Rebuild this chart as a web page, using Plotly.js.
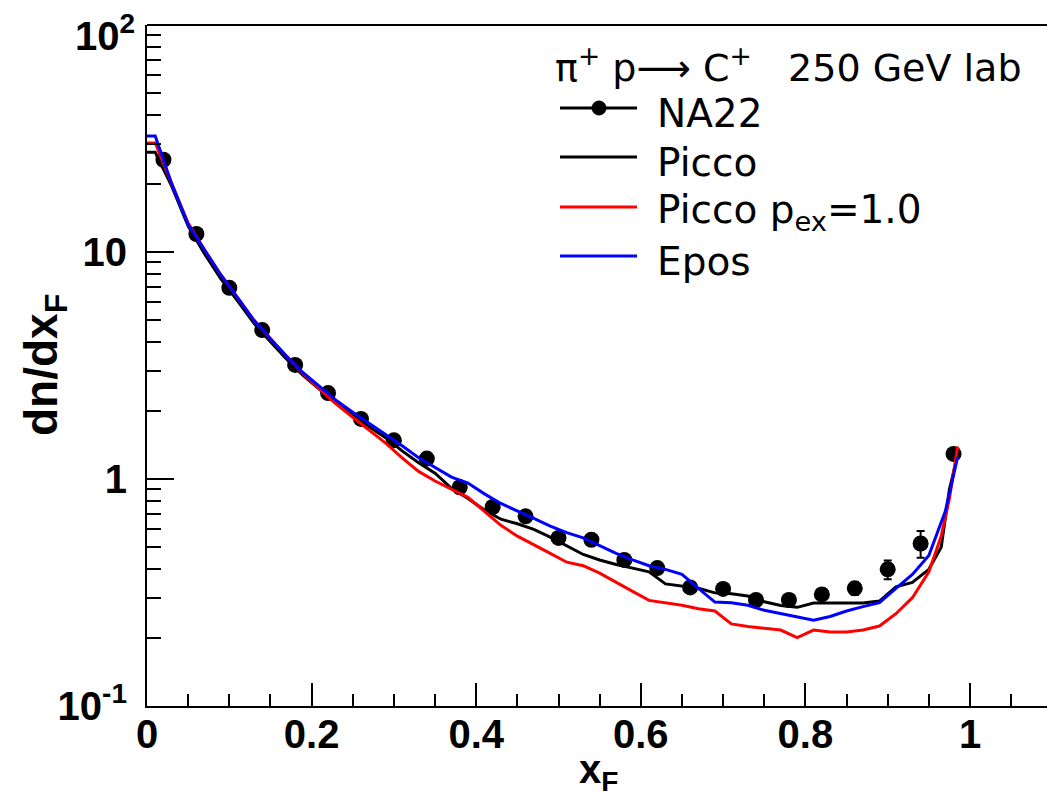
<!DOCTYPE html>
<html>
<head>
<meta charset="utf-8">
<script src="https://cdn.plot.ly/plotly-3.0.1.min.js"></script>
<style>html,body{margin:0;padding:0;background:#fff;}#chart{width:1047px;height:802px;}</style>
</head>
<body>
<div id="chart"></div>
<script>
// ---- Data ----
const na22X = [0.02,0.06,0.10,0.14,0.18,0.22,0.26,0.30,0.34,0.38,0.42,0.46,0.50,0.54,0.58,0.62,0.66,0.70,0.74,0.78,0.82,0.86,0.90,0.94,0.98];
const na22Y = [25.5,12.0,6.95,4.53,3.18,2.39,1.84,1.48,1.23,0.92,0.753,0.685,0.55,0.54,0.44,0.405,0.333,0.328,0.293,0.293,0.31,0.33,0.40,0.52,1.29];
const na22Err = [0.8,0.4,0.2,0.12,0.08,0.06,0.05,0.04,0.035,0.03,0.025,0.022,0.02,0.02,0.016,0.016,0.014,0.014,0.013,0.014,0.016,0.022,0.038,0.07,0.06];

const piccoX = [0.0,0.01,0.03,0.05,0.07,0.09,0.11,0.13,0.15,0.17,0.19,0.21,0.23,0.25,0.27,0.29,0.31,0.33,0.35,0.37,0.39,0.41,0.43,0.45,0.47,0.49,0.51,0.53,0.55,0.57,0.59,0.61,0.63,0.65,0.67,0.69,0.71,0.73,0.75,0.77,0.79,0.81,0.83,0.85,0.87,0.89,0.91,0.93,0.95,0.965,0.975,0.985];
const piccoY = [27.5,27.5,19.5,13.0,9.8,7.6,6.1,4.85,4.02,3.36,2.85,2.47,2.15,1.92,1.70,1.52,1.33,1.18,1.06,0.91,0.82,0.73,0.665,0.635,0.60,0.555,0.51,0.465,0.44,0.42,0.405,0.39,0.345,0.337,0.330,0.315,0.312,0.305,0.288,0.277,0.272,0.284,0.284,0.284,0.284,0.29,0.335,0.35,0.40,0.50,0.90,1.27];

const piccoPexX = [0.0,0.01,0.03,0.05,0.07,0.09,0.11,0.13,0.15,0.17,0.19,0.21,0.23,0.25,0.27,0.29,0.31,0.33,0.35,0.37,0.39,0.41,0.43,0.45,0.47,0.49,0.51,0.53,0.55,0.57,0.59,0.61,0.63,0.65,0.67,0.69,0.71,0.73,0.75,0.77,0.79,0.81,0.83,0.85,0.87,0.89,0.91,0.93,0.95,0.965,0.975,0.985];
const piccoPexY = [30.2,30.2,20.0,13.4,10.2,7.9,6.3,5.0,4.15,3.45,2.90,2.48,2.14,1.87,1.64,1.44,1.24,1.08,0.98,0.90,0.83,0.72,0.625,0.56,0.515,0.47,0.43,0.415,0.385,0.35,0.32,0.292,0.284,0.278,0.268,0.262,0.23,0.224,0.22,0.216,0.20,0.216,0.212,0.212,0.216,0.225,0.255,0.30,0.39,0.56,0.82,1.39];

const eposX = [0.0,0.01,0.03,0.05,0.07,0.09,0.11,0.13,0.15,0.17,0.19,0.21,0.23,0.25,0.27,0.29,0.31,0.33,0.35,0.37,0.39,0.41,0.43,0.45,0.47,0.49,0.51,0.53,0.55,0.57,0.59,0.61,0.63,0.65,0.67,0.69,0.71,0.73,0.75,0.77,0.79,0.81,0.83,0.85,0.87,0.89,0.91,0.93,0.95,0.97,0.985];
const eposY = [32.4,32.4,20.0,13.2,10.2,7.9,6.3,5.0,4.15,3.45,2.93,2.55,2.22,1.97,1.76,1.58,1.40,1.24,1.12,1.02,0.96,0.86,0.78,0.72,0.67,0.62,0.58,0.55,0.51,0.47,0.44,0.415,0.40,0.38,0.33,0.287,0.285,0.278,0.264,0.255,0.246,0.239,0.248,0.262,0.274,0.285,0.33,0.38,0.46,0.72,1.25];

const yTickVals = [0.1, 1, 10];
const yTickText = ['10<sup>-1</sup>', '1', '10'];
const yTopLabel = '10<sup>2</sup>';
const xTickVals = [0, 0.2, 0.4, 0.6, 0.8, 1];
const xTickText = ['0', '0.2', '0.4', '0.6', '0.8', '1'];

const legendTitle = 'π<sup>+</sup>\u00a0p<span style="font-family:DejaVu Sans">⟶</span>\u00a0C<sup>+</sup>\u00a0\u00a0\u00a0250 GeV lab';
const legendNames = ['NA22', 'Picco', 'Picco p<sub>ex</sub>=1.0', 'Epos'];
const legendColors = ['#000000', '#000000', '#ff0000', '#0000ff'];

// ---- Layout geometry ----
const W = 1047, H = 802;
const mL = 147, mR = 0, mT = 25, mB = 96;
const plotW = W - mL - mR, plotH = H - mT - mB;
const px2paperX = p => (p - mL) / plotW;
const px2paperY = p => (H - mB - p) / plotH;

const FONT = 'Liberation Sans, Arial, Helvetica, sans-serif';
const LFONT = 'DejaVu Sans, Liberation Sans, sans-serif';

// minor y ticks (2..9 within each decade)
const yMinor = [];
for (let e = -1; e < 2; e++) for (let m = 2; m <= 9; m++) yMinor.push(m * Math.pow(10, e));

const traces = [
  {x: na22X, y: na22Y, type: 'scatter', mode: 'markers', name: 'NA22', showlegend: false,
   marker: {color: '#000', size: 16, symbol: 'circle'},
   error_y: {type: 'data', array: na22Err, visible: true, color: '#000', thickness: 2, width: 4}},
  {x: piccoX, y: piccoY, type: 'scatter', mode: 'lines', name: 'Picco', showlegend: false,
   line: {color: '#000', width: 3}},
  {x: piccoPexX, y: piccoPexY, type: 'scatter', mode: 'lines', name: 'Picco pex=1.0', showlegend: false,
   line: {color: '#ff0000', width: 3}},
  {x: eposX, y: eposY, type: 'scatter', mode: 'lines', name: 'Epos', showlegend: false,
   line: {color: '#0000ff', width: 3}},
  // invisible trace to carry minor y ticks on overlay axis
  {x: [0], y: [1], yaxis: 'y2', type: 'scatter', mode: 'markers', marker: {opacity: 0}, showlegend: false, hoverinfo: 'skip'}
];

// legend built from annotations/shapes
const rowPx = [108, 157, 207, 256];
const annotations = [
  {xref: 'paper', yref: 'paper', x: px2paperX(553), y: px2paperY(65), xanchor: 'left', yanchor: 'middle',
   text: legendTitle, showarrow: false, font: {family: LFONT, size: 38, color: '#000'}},
  {xref: 'paper', yref: 'paper', x: px2paperX(44), y: px2paperY(365), xanchor: 'center', yanchor: 'middle',
   text: '<b>dn/dx<sub>F</sub></b>', textangle: -90, showarrow: false, font: {family: FONT, size: 46, color: '#000'}},
  {xref: 'paper', yref: 'paper', x: px2paperX(598), y: px2paperY(772), xanchor: 'center', yanchor: 'middle',
   text: '<b>x<sub>F</sub></b>', showarrow: false, font: {family: FONT, size: 40, color: '#000'}},
  {xref: 'paper', yref: 'y', x: px2paperX(137), y: 2, xanchor: 'right', yanchor: 'middle', yshift: -8,
   text: '<b>' + yTopLabel + '</b>', showarrow: false, font: {family: FONT, size: 40, color: '#000'}}
];
const shapes = [
  {type: 'line', xref: 'paper', yref: 'paper', x0: 0, x1: 1, y0: 1, y1: 1, line: {color: '#000', width: 2}}
];
legendNames.forEach((n, i) => {
  annotations.push({xref: 'paper', yref: 'paper', x: px2paperX(655), y: px2paperY(rowPx[i] + 5), xanchor: 'left', yanchor: 'middle',
    text: n, showarrow: false, font: {family: LFONT, size: 39, color: '#000'}});
  shapes.push({type: 'line', xref: 'paper', yref: 'paper', x0: px2paperX(560), x1: px2paperX(637),
    y0: px2paperY(rowPx[i]), y1: px2paperY(rowPx[i]), line: {color: legendColors[i], width: 3}});
});
shapes.push({type: 'circle', xref: 'paper', yref: 'paper', xsizemode: 'pixel', ysizemode: 'pixel',
  xanchor: px2paperX(599), yanchor: px2paperY(rowPx[0]), x0: -7, x1: 7, y0: -7, y1: 7,
  fillcolor: '#000', line: {color: '#000', width: 1}});

const layout = {
  width: W, height: H,
  margin: {l: mL, r: mR, t: mT, b: mB, pad: 0},
  paper_bgcolor: '#fff', plot_bgcolor: '#fff',
  showlegend: false,
  xaxis: {
    range: [0, (W - mL) / 823], showgrid: false, zeroline: false,
    showline: true, linecolor: '#000', linewidth: 2,
    ticks: 'inside', ticklen: 23, tickwidth: 2, tickcolor: '#000',
    tickvals: xTickVals, ticktext: xTickText,
    tickfont: {family: FONT, size: 40, color: '#000', weight: 'bold'},
    ticklabelstandoff: -8,
    minor: {ticks: 'inside', dtick: 0.05, ticklen: 12, tickwidth: 2, tickcolor: '#000', showgrid: false}
  },
  yaxis: {
    type: 'log', range: [-1, 2], showgrid: false, zeroline: false,
    showline: true, linecolor: '#000', linewidth: 2,
    ticks: 'inside', ticklen: 27, tickwidth: 2, tickcolor: '#000',
    tickvals: yTickVals, ticktext: yTickText,
    tickfont: {family: FONT, size: 40, color: '#000', weight: 'bold'},
    ticklabelstandoff: 10, ticklabeloverflow: 'allow'
  },
  yaxis2: {
    type: 'log', range: [-1, 2], overlaying: 'y', side: 'left', showgrid: false, zeroline: false,
    showline: false, ticks: 'inside', ticklen: 14, tickwidth: 2, tickcolor: '#000',
    tickvals: yMinor, showticklabels: false
  },
  annotations: annotations,
  shapes: shapes
};

Plotly.newPlot('chart', traces, layout, {staticPlot: true, displayModeBar: false});
</script>
</body>
</html>
